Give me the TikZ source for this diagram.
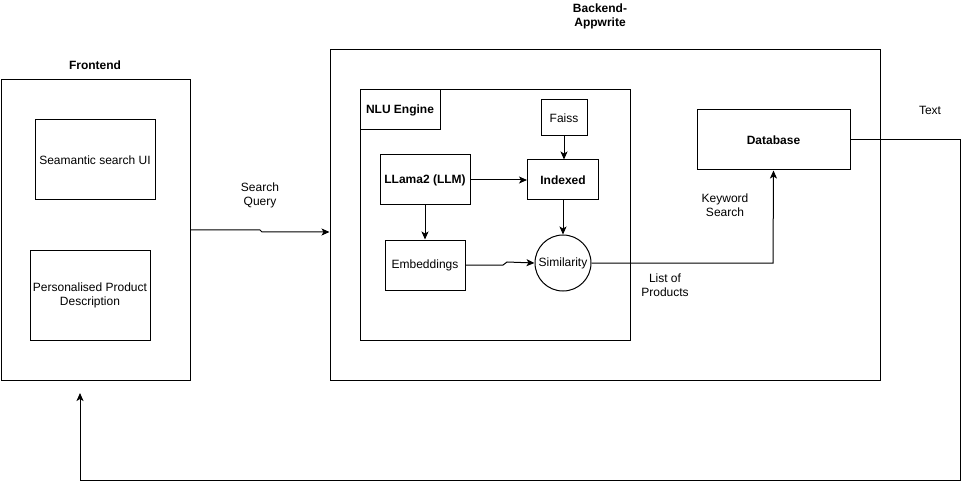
\documentclass[tikz,border=0pt]{standalone}
\usepackage{fontspec}
\setmainfont{Liberation Sans}
\usetikzlibrary{arrows.meta}
\begin{document}
\begin{tikzpicture}[x=1pt,y=-1pt,
  every node/.style={font=\fontsize{12}{14}\selectfont, align=center, inner sep=0pt},
  box/.style={draw, line width=1pt, fill=white},
  lbl/.style={font=\fontsize{12}{14}\selectfont\bfseries},
  conn/.style={draw, line width=1pt, -{Stealth[length=8pt,width=7pt,inset=2pt]}},
  plain/.style={draw, line width=1pt}]
\useasboundingbox (0,0) rectangle (969,489);
% Frontend
\node[lbl] (fl) at (95,65) {Frontend};
\node[box, minimum width=189pt, minimum height=300pt] (front) at (95.5,230) {};
\node[box, minimum width=120pt, minimum height=80pt] (ui) at (95,160) {Seamantic search UI};
\node[box, minimum width=120pt, minimum height=90pt] (ppd) at (90,295) {Personalised Product\\Description};
% Backend
\node[lbl, align=center] (bl) at (600,16) {Backend-\\Appwrite};
\node[box, minimum width=550pt, minimum height=330pt] (back) at (605,215) {};
\node[box, minimum width=270pt, minimum height=250pt] (nlu) at (495,215) {};
\node[box, minimum width=80pt, minimum height=40pt, font=\fontsize{12}{14}\selectfont\bfseries] (nlul) at (400,110) {NLU Engine};
\node[box, minimum width=46pt, minimum height=36pt] (faiss) at (564,118) {Faiss};
\node[box, minimum width=71pt, minimum height=40pt, font=\fontsize{12}{14}\selectfont\bfseries] (idx) at (563,180) {Indexed};
\node[box, minimum width=90pt, minimum height=50pt, font=\fontsize{12}{14}\selectfont\bfseries] (llm) at (425,180) {LLama2 (LLM)};
\node[box, minimum width=80pt, minimum height=50pt] (emb) at (425,265) {Embeddings};
\node[box, circle, minimum size=56pt] (sim) at (563,263) {Similarity};
\node[box, minimum width=153pt, minimum height=60pt, font=\fontsize{12}{14}\selectfont\bfseries] (db) at (773.5,140) {Database};
% labels
\node (tq) at (260,195) {Search\\Query};
\node (tt) at (930,110) {Text};
\node (tk) at (725,205) {Keyword\\Search};
\node (tp) at (665,285) {List of\\Products};
\coordinate (bend) at (80,480);
% connectors
\draw[conn] (faiss.south) -- (faiss.south |- idx.north);
\draw[conn] (llm) -- (idx);
\draw[conn] (llm) -- (emb);
\draw[conn] (idx) -- (sim);
\draw[conn] (emb.east) -- (503,265) -- (507,262) -- (sim.west);
\draw[conn] (sim.east) -- (773,263) -- (db.south);
\draw[conn] (front.east |- 0,230) -- (260,230) -- (262,232) -- (back.west |- 0,232);
\draw[conn] (db.east) -- (960,140) -- (960,480) -- (bend) -- (80,393);
\end{tikzpicture}
\end{document}
